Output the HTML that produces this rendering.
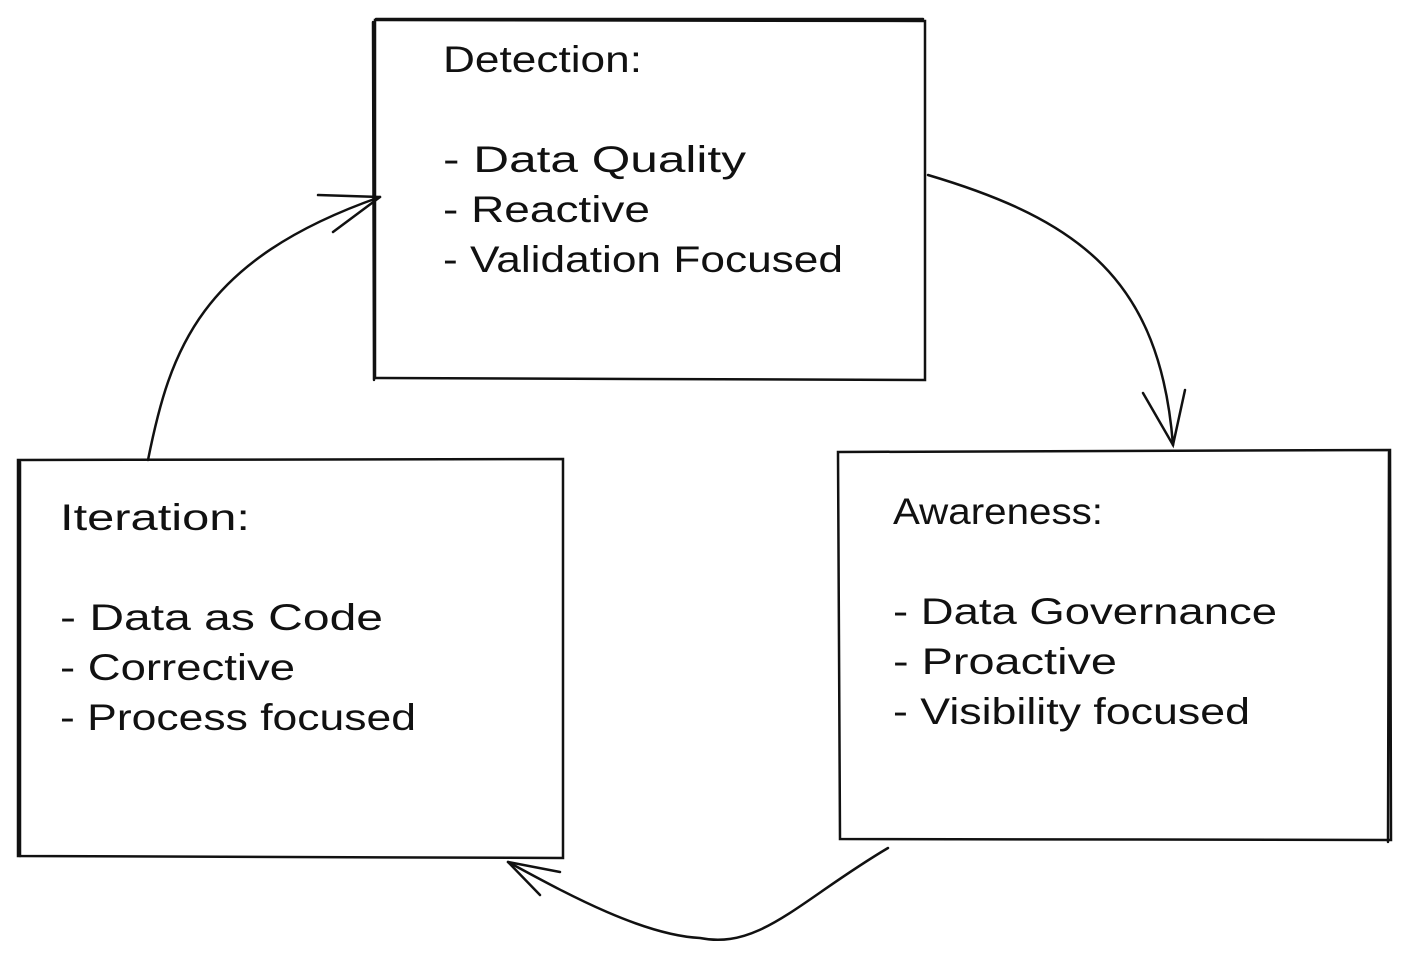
<!DOCTYPE html>
<html><head><meta charset="utf-8"><style>
html,body{margin:0;padding:0;background:#fff;}
svg{display:block}
text{font-family:"Liberation Sans",sans-serif;font-size:37px;fill:#111;}
</style></head><body>
<svg width="1409" height="958" viewBox="0 0 1409 958" xmlns="http://www.w3.org/2000/svg">
<g fill="none" stroke="#111" stroke-width="2.5" stroke-linecap="round">
<path d="M375 20 L925 21 L925 380 L375 378 Z"/>
<path d="M373 22 L374 380 M376 19 L923 19"/>
<path d="M18 460 L563 459 L563 858 L18 856 Z"/>
<path d="M20 462 L20 856"/>
<path d="M838 452 L1390 450 L1391 840 L840 839 Z"/>
<path d="M1389 452 L1388 842"/>
<path d="M928 175 C1080 220 1160 280 1173 445"/>
<path d="M1143 393 L1173 445 L1185 390"/>
<path d="M888 848 C800 900 760 950 700 938 C640 935 560 890 508 862"/>
<path d="M508 862 L560 872 M508 862 L540 895"/>
<path d="M148 460 C170 350 200 260 380 197"/>
<path d="M380 197 L318 195 M380 197 L333 232"/>
</g>
<g lengthAdjust="spacingAndGlyphs">
<text x="443" y="72" textLength="199" lengthAdjust="spacingAndGlyphs">Detection:</text>
<text x="443" y="172" textLength="303" lengthAdjust="spacingAndGlyphs">- Data Quality</text>
<text x="443" y="222" textLength="207" lengthAdjust="spacingAndGlyphs">- Reactive</text>
<text x="443" y="272" textLength="400" lengthAdjust="spacingAndGlyphs">- Validation Focused</text>
<text x="60" y="530" textLength="190" lengthAdjust="spacingAndGlyphs">Iteration:</text>
<text x="60" y="630" textLength="323" lengthAdjust="spacingAndGlyphs">- Data as Code</text>
<text x="60" y="680" textLength="235" lengthAdjust="spacingAndGlyphs">- Corrective</text>
<text x="60" y="730" textLength="356" lengthAdjust="spacingAndGlyphs">- Process focused</text>
<text x="893" y="524" textLength="210" lengthAdjust="spacingAndGlyphs">Awareness:</text>
<text x="893" y="624" textLength="384" lengthAdjust="spacingAndGlyphs">- Data Governance</text>
<text x="893" y="674" textLength="224" lengthAdjust="spacingAndGlyphs">- Proactive</text>
<text x="893" y="724" textLength="357" lengthAdjust="spacingAndGlyphs">- Visibility focused</text>
</g>
</svg>
</body></html>
